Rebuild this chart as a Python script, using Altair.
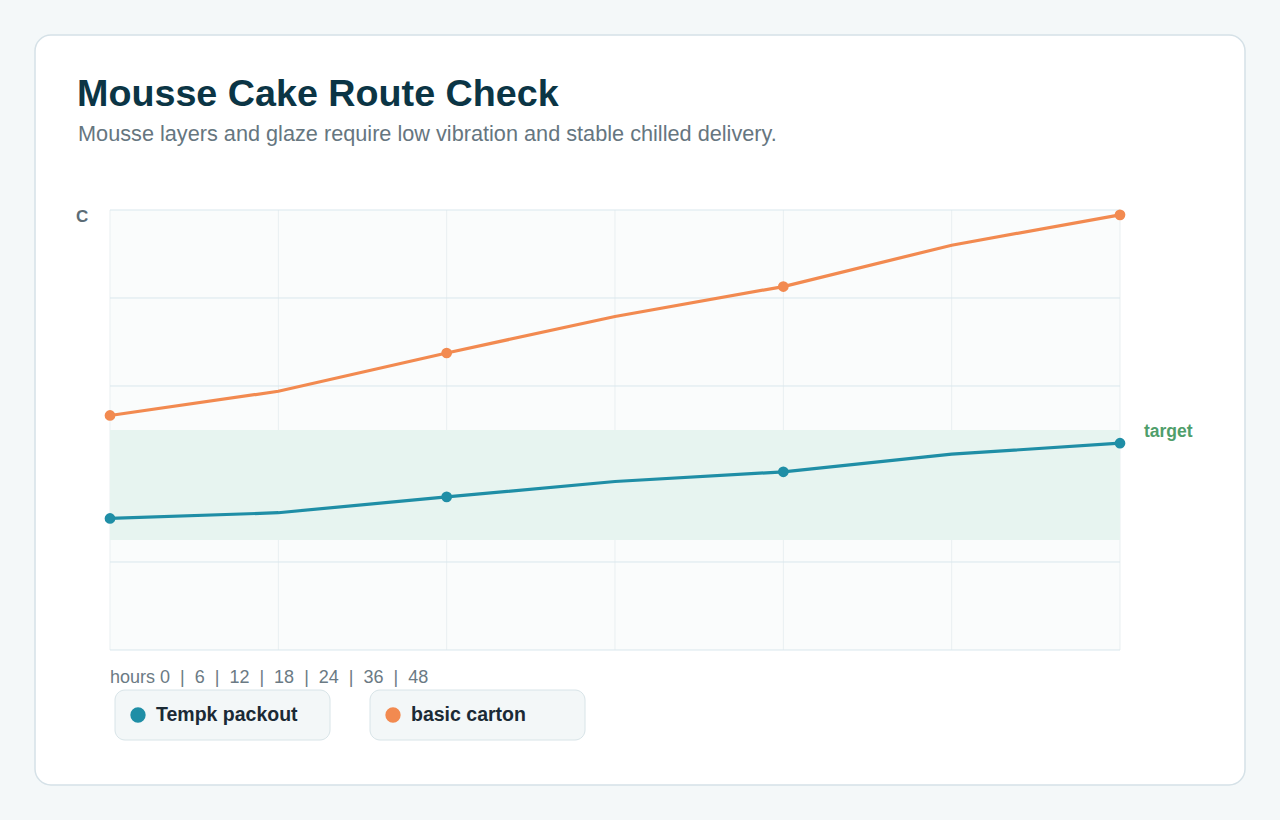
import altair as alt
import pandas as pd

# ---- data ----
hours = ["0", "6", "12", "18", "24", "36", "48"]
tempk = [2.99, 3.12, 3.48, 3.83, 4.05, 4.45, 4.70]
basic = [5.33, 5.88, 6.75, 7.58, 8.26, 9.20, 9.89]
marker_hours = ["0", "12", "24", "48"]
series_names = ["Tempk packout", "basic carton"]
series_colors = ["#1f8ea6", "#f28a50"]
y_ticks = [0, 2, 4, 6, 8, 10]
target_low, target_high = 2.5, 5.0

title = "Mousse Cake Route Check"
subtitle = "Mousse layers and glaze require low vibration and stable chilled delivery."
y_unit = "C"
SEP = "\u00a0\u00a0|\u00a0\u00a0"
x_caption = "hours " + SEP.join(hours)

FONT = "Liberation Sans, Arial, Helvetica, sans-serif"
W, H = 1010, 440

rows = []
for name, vals in zip(series_names, [tempk, basic]):
    for h, v in zip(hours, vals):
        rows.append({"series": name, "hour": h, "temp": v, "marker": h in marker_hours})
df = pd.DataFrame(rows)

xs = alt.Scale(type="point", padding=0)
ys = alt.Scale(domain=[0, 10], nice=False, zero=False)
X = lambda f: alt.X(f, sort=hours, scale=xs, axis=None)
Y = lambda f: alt.Y(f, scale=ys, axis=None)
color = alt.Color("series:N", scale=alt.Scale(domain=series_names, range=series_colors), legend=None)

one = alt.Data(values=[{}])

card = alt.Chart(one).mark_rect(fill="white", stroke="#d5e1e7", strokeWidth=1.5, cornerRadius=16).encode(
    x=alt.value(-75), x2=alt.value(1135), y=alt.value(-175), y2=alt.value(575))
plotbg = alt.Chart(one).mark_rect(fill="#fafcfc").encode(
    x=alt.value(0), x2=alt.value(W), y=alt.value(0), y2=alt.value(H))

vgrid = alt.Chart(pd.DataFrame({"hour": hours})).mark_rule(color="#e9eff1", strokeWidth=1).encode(
    x=X("hour:O"), y=alt.value(0), y2=alt.value(H))
hgrid = alt.Chart(pd.DataFrame({"v": y_ticks})).mark_rule(color="#d9e7ed", strokeWidth=1).encode(
    y=Y("v:Q"), x=alt.value(0), x2=alt.value(W))

band_df = pd.DataFrame({"lo": [target_low], "hi": [target_high], "label": ["target"]})
band = alt.Chart(band_df).mark_rect(fill="#e7f4f0").encode(
    y=Y("lo:Q"), y2="hi:Q", x=alt.value(0), x2=alt.value(W))
target_txt = alt.Chart(band_df).mark_text(
    align="left", baseline="middle", dy=2, font=FONT, fontSize=17.5, fontWeight="bold", color="#4f9e6b").encode(
    y=Y("hi:Q"), x=alt.value(1034), text="label:N")

lines = alt.Chart(df).mark_line(strokeWidth=3.2).encode(
    x=X("hour:O"), y=Y("temp:Q"), color=color, detail="series:N")
points = alt.Chart(df).transform_filter("datum.marker").mark_circle(size=115, opacity=1).encode(
    x=X("hour:O"), y=Y("temp:Q"), color=color)

def txt(s, x, y, size, weight="normal", col="#000", baseline="alphabetic"):
    return alt.Chart(one).mark_text(
        text=s, align="left", baseline=baseline, font=FONT, fontSize=size, fontWeight=weight, color=col
    ).encode(x=alt.value(x), y=alt.value(y))

t_title = txt(title, -33, -104, 37.7, "bold", "#0b3545")
t_sub = txt(subtitle, -32, -69, 21.7, "normal", "#66767f")
t_unit = txt(y_unit, -34, 12, 17, "bold", "#5c6c76")
t_hours = txt(x_caption, 0, 473, 18, "normal", "#6b7a84")

legend_layers = []
for i, (name, col) in enumerate(zip(series_names, series_colors)):
    dx = i * 255
    legend_layers.append(alt.Chart(one).mark_rect(
        fill="#f3f7f8", stroke="#d8e4e8", strokeWidth=1, cornerRadius=10).encode(
        x=alt.value(5 + dx), x2=alt.value(220 + dx), y=alt.value(480), y2=alt.value(530)))
    legend_layers.append(alt.Chart(one).mark_circle(size=235, opacity=1, color=col).encode(
        x=alt.value(28 + dx), y=alt.value(505)))
    legend_layers.append(txt(name, 46 + dx, 505, 19.5, "bold", "#1b2a35", baseline="middle"))

chart = alt.layer(
    card, plotbg, vgrid, hgrid, band, lines, points, target_txt,
    t_title, t_sub, t_unit, t_hours, *legend_layers
).properties(
    width=W, height=H,
    padding={"left": 110, "top": 210, "right": 160, "bottom": 170},
    autosize=alt.AutoSizeParams(type="none"),
    background="#f4f8f9",
).configure_view(stroke=None)

chart.save("out.html", embed_options={"renderer": "svg", "actions": False})
